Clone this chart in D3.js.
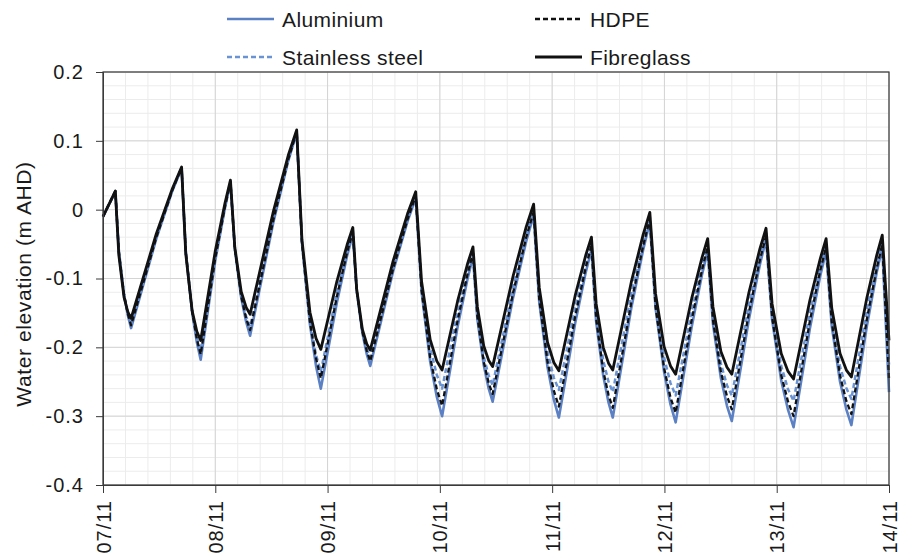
<!DOCTYPE html>
<html>
<head>
<meta charset="utf-8">
<script src="https://cdn.jsdelivr.net/npm/d3@7"></script>
<style>
  html, body { margin: 0; padding: 0; background: #fff; }
  svg text { font-family: "Liberation Sans", Arial, sans-serif; fill: #1a1a1a; }
</style>
</head>
<body>
<svg id="chart" width="903" height="558"></svg>
<script>
// ---- data (time in days since 07/11) ----
const days = [0, 0.11, 0.141, 0.187, 0.222,
  0.25, 0.475, 0.619, 0.70, 0.737, 0.794, 0.836,
  0.87, 1.0, 1.087, 1.135, 1.174, 1.231, 1.275,
  1.31, 1.518, 1.650, 1.725, 1.772, 1.843, 1.897,
  1.94, 2.083, 2.174, 2.225, 2.259, 2.31, 2.349,
  2.38, 2.583, 2.712, 2.785, 2.837, 2.914, 2.973,
  3.02, 3.158, 3.246, 3.295, 3.334, 3.391, 3.435,
  3.47, 3.653, 3.769, 3.835, 3.885, 3.959, 4.015,
  4.06, 4.205, 4.298, 4.35, 4.392, 4.455, 4.502,
  4.54, 4.705, 4.811, 4.87, 4.921, 4.997, 5.054,
  5.10, 5.243, 5.334, 5.385, 5.432, 5.503, 5.557,
  5.60, 5.753, 5.850, 5.905, 5.959, 6.04, 6.101,
  6.15, 6.295, 6.388, 6.44, 6.49, 6.564, 6.62,
  6.665, 6.803, 6.891, 6.94, 7.0];

const fibreglass = [-0.010, 0.027, -0.066, -0.127, -0.149,
  -0.158, -0.035, 0.031, 0.062, -0.064, -0.147, -0.177,
  -0.190, -0.060, 0.010, 0.043, -0.055, -0.119, -0.142,
  -0.152, -0.002, 0.079, 0.116, -0.044, -0.149, -0.187,
  -0.203, -0.104, -0.051, -0.026, -0.115, -0.174, -0.195,
  -0.204, -0.075, -0.006, 0.026, -0.104, -0.189, -0.220,
  -0.233, -0.133, -0.079, -0.054, -0.141, -0.198, -0.219,
  -0.228, -0.096, -0.025, 0.008, -0.113, -0.193, -0.222,
  -0.234, -0.125, -0.067, -0.040, -0.137, -0.200, -0.223,
  -0.233, -0.105, -0.036, -0.004, -0.122, -0.199, -0.227,
  -0.239, -0.129, -0.070, -0.042, -0.141, -0.206, -0.229,
  -0.239, -0.120, -0.057, -0.027, -0.137, -0.209, -0.235,
  -0.246, -0.132, -0.071, -0.042, -0.143, -0.209, -0.233,
  -0.243, -0.128, -0.066, -0.037, -0.190];

const stainless = [-0.010, 0.027, -0.063, -0.125, -0.152,
  -0.165, -0.038, 0.029, 0.061, -0.064, -0.149, -0.186,
  -0.205, -0.067, 0.007, 0.041, -0.058, -0.126, -0.155,
  -0.170, -0.011, 0.074, 0.114, -0.050, -0.162, -0.211,
  -0.235, -0.120, -0.059, -0.030, -0.117, -0.176, -0.202,
  -0.215, -0.082, -0.011, 0.022, -0.111, -0.201, -0.240,
  -0.260, -0.148, -0.088, -0.060, -0.152, -0.214, -0.241,
  -0.255, -0.112, -0.036, 0.000, -0.123, -0.207, -0.244,
  -0.262, -0.142, -0.078, -0.048, -0.150, -0.219, -0.250,
  -0.265, -0.122, -0.046, -0.010, -0.132, -0.215, -0.252,
  -0.270, -0.147, -0.081, -0.050, -0.153, -0.224, -0.255,
  -0.270, -0.138, -0.067, -0.034, -0.149, -0.227, -0.261,
  -0.278, -0.150, -0.082, -0.050, -0.156, -0.228, -0.259,
  -0.275, -0.146, -0.077, -0.045, -0.225];

const hdpe = [-0.010, 0.027, -0.061, -0.123, -0.152,
  -0.168, -0.040, 0.029, 0.061, -0.061, -0.148, -0.188,
  -0.210, -0.070, 0.005, 0.040, -0.057, -0.126, -0.158,
  -0.175, -0.014, 0.073, 0.113, -0.048, -0.163, -0.216,
  -0.245, -0.126, -0.062, -0.032, -0.117, -0.177, -0.205,
  -0.220, -0.086, -0.014, 0.020, -0.117, -0.215, -0.261,
  -0.285, -0.161, -0.094, -0.063, -0.155, -0.221, -0.252,
  -0.268, -0.120, -0.040, -0.003, -0.130, -0.221, -0.263,
  -0.286, -0.155, -0.085, -0.052, -0.158, -0.234, -0.269,
  -0.288, -0.135, -0.052, -0.014, -0.141, -0.230, -0.273,
  -0.295, -0.160, -0.088, -0.054, -0.160, -0.236, -0.271,
  -0.290, -0.149, -0.073, -0.038, -0.156, -0.240, -0.279,
  -0.300, -0.162, -0.088, -0.054, -0.163, -0.241, -0.278,
  -0.297, -0.159, -0.085, -0.050, -0.245];

const aluminium = [-0.010, 0.026, -0.059, -0.123, -0.154,
  -0.172, -0.042, 0.028, 0.060, -0.060, -0.149, -0.193,
  -0.218, -0.074, 0.003, 0.039, -0.057, -0.128, -0.163,
  -0.183, -0.018, 0.071, 0.112, -0.048, -0.167, -0.227,
  -0.260, -0.135, -0.067, -0.036, -0.118, -0.179, -0.210,
  -0.227, -0.090, -0.017, 0.017, -0.119, -0.221, -0.272,
  -0.300, -0.170, -0.101, -0.068, -0.159, -0.226, -0.260,
  -0.279, -0.127, -0.046, -0.008, -0.134, -0.229, -0.276,
  -0.302, -0.165, -0.092, -0.058, -0.163, -0.241, -0.280,
  -0.302, -0.143, -0.058, -0.018, -0.143, -0.236, -0.283,
  -0.309, -0.170, -0.095, -0.060, -0.166, -0.245, -0.285,
  -0.307, -0.159, -0.080, -0.043, -0.160, -0.248, -0.291,
  -0.316, -0.173, -0.096, -0.060, -0.169, -0.250, -0.290,
  -0.313, -0.169, -0.091, -0.055, -0.265];

const xTickValues = [0, 1, 2, 3, 4, 5, 6, 7];
const xTickLabels = ["07/11", "08/11", "09/11", "10/11", "11/11", "12/11", "13/11", "14/11"];
const yTickValues = [0.2, 0.1, 0, -0.1, -0.2, -0.3, -0.4];
const yTickLabels = ["0.2", "0.1", "0", "-0.1", "-0.2", "-0.3", "-0.4"];
const yTitle = "Water elevation (m AHD)";

const seriesNames = ["Aluminium", "Stainless steel", "HDPE", "Fibreglass"];
const seriesValues = [aluminium, stainless, hdpe, fibreglass];

// ---- styles ----
const styles = {
  "Aluminium":       { color: "#5b80c4", dash: null,  width: 2.6 },
  "Stainless steel": { color: "#6a93d3", dash: "5,3", width: 2.5 },
  "HDPE":            { color: "#111111", dash: "5,3", width: 2.3 },
  "Fibreglass":      { color: "#111111", dash: null,  width: 2.8 }
};

const svg = d3.select("#chart");
const L = 103, R = 889, T = 72, B = 485;
const x = d3.scaleLinear().domain([0, 7]).range([L, R]);
const y = d3.scaleLinear().domain([-0.4, 0.2]).range([B, T]);

// grid
const grid = svg.append("g");
grid.selectAll("line.vminor").data(d3.range(0, 7.0001, 0.2)).join("line")
  .attr("x1", d => x(d)).attr("x2", d => x(d)).attr("y1", T).attr("y2", B)
  .attr("stroke", "#ececec").attr("stroke-width", 1);
grid.selectAll("line.hminor").data(d3.range(-0.4, 0.2001, 0.02)).join("line")
  .attr("x1", L).attr("x2", R).attr("y1", d => y(d)).attr("y2", d => y(d))
  .attr("stroke", "#ececec").attr("stroke-width", 1);
grid.selectAll("line.vmajor").data(xTickValues).join("line")
  .attr("x1", d => x(d)).attr("x2", d => x(d)).attr("y1", T).attr("y2", B)
  .attr("stroke", "#d4d4d4").attr("stroke-width", 1);
grid.selectAll("line.hmajor").data(yTickValues).join("line")
  .attr("x1", L).attr("x2", R).attr("y1", d => y(d)).attr("y2", d => y(d))
  .attr("stroke", "#d4d4d4").attr("stroke-width", 1);

// series
const line = d3.line().x((d, i) => x(days[i])).y(d => y(d)).curve(d3.curveLinear);
seriesNames.forEach((name, k) => {
  const s = styles[name];
  svg.append("path").datum(seriesValues[k])
    .attr("d", line)
    .attr("fill", "none")
    .attr("stroke", s.color)
    .attr("stroke-width", s.width)
    .attr("stroke-dasharray", s.dash)
    .attr("stroke-linejoin", "round");
});

// frame
svg.append("rect").attr("x", L).attr("y", T).attr("width", R - L).attr("height", B - T)
  .attr("fill", "none").attr("stroke", "#3a3a3a").attr("stroke-width", 1.2);

// axes
const yAxis = d3.axisLeft(y).tickValues(yTickValues)
  .tickFormat((d, i) => yTickLabels[i]).tickSize(7).tickPadding(12);
const gy = svg.append("g").attr("transform", `translate(${L},0)`).call(yAxis);
gy.select(".domain").attr("stroke", "#3a3a3a");
gy.selectAll(".tick line").attr("stroke", "#3a3a3a");
gy.selectAll(".tick text").attr("font-size", 20).attr("fill", "#1a1a1a")
  .attr("letter-spacing", "1px")
  .attr("font-family", "'Liberation Sans', Arial, sans-serif");

const xAxis = d3.axisBottom(x).tickValues(xTickValues)
  .tickFormat((d, i) => xTickLabels[i]).tickSize(8);
const gx = svg.append("g").attr("transform", `translate(0,${B})`).call(xAxis);
gx.select(".domain").attr("stroke", "#3a3a3a");
gx.selectAll(".tick line").attr("stroke", "#3a3a3a");
gx.selectAll(".tick text").attr("font-size", 20).attr("fill", "#1a1a1a")
  .attr("letter-spacing", "1px")
  .attr("font-family", "'Liberation Sans', Arial, sans-serif")
  .attr("text-anchor", "end")
  .attr("transform", "rotate(-90)")
  .attr("x", -15).attr("y", 0).attr("dy", "0.35em");

// y title
svg.append("text")
  .attr("transform", "translate(31,284) rotate(-90)")
  .attr("text-anchor", "middle")
  .attr("font-size", 21)
  .attr("letter-spacing", "0.6px")
  .text(yTitle);

// legend
const legendPos = {
  "Aluminium":       { lx: 227, ly: 19 },
  "Stainless steel": { lx: 227, ly: 57 },
  "HDPE":            { lx: 535, ly: 19 },
  "Fibreglass":      { lx: 535, ly: 57 }
};
seriesNames.forEach(name => {
  const p = legendPos[name], s = styles[name];
  const g = svg.append("g");
  g.append("line").attr("x1", p.lx).attr("x2", p.lx + 47).attr("y1", p.ly).attr("y2", p.ly)
    .attr("stroke", s.color).attr("stroke-width", s.width).attr("stroke-dasharray", s.dash);
  g.append("text").attr("x", p.lx + 55).attr("y", p.ly + 8).attr("font-size", 21)
    .attr("letter-spacing", "0.4px").text(name);
});
</script>
</body>
</html>
